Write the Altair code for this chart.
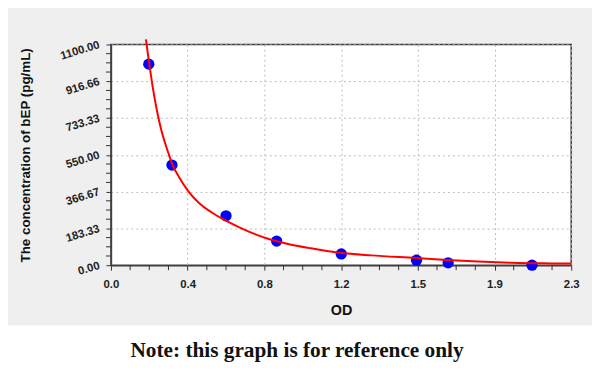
import altair as alt
import pandas as pd

# Standard points (OD, concentration)
od = [0.189, 0.305, 0.575, 0.828, 1.151, 1.527, 1.685, 2.104]
conc = [1002, 499, 246, 120, 56, 25, 12, 0]

# Fitted curve
curve_od = [0.175, 0.185, 0.193, 0.21, 0.23, 0.25, 0.27, 0.29, 0.307, 0.34, 0.386,
            0.44, 0.5, 0.567, 0.65, 0.732, 0.781, 0.88, 1.0, 1.144, 1.3, 1.523,
            1.7, 1.835, 2.003, 2.2, 2.3]
curve_conc = [1125, 1050, 993, 880, 770, 680, 610, 550, 501, 440, 369,
              310, 265, 226, 185, 150, 133, 107, 84, 62, 49, 36,
              25, 18, 12, 9, 8]

x_ticks = [0.0, 0.383333, 0.766667, 1.15, 1.533333, 1.916667, 2.3]
x_tick_labels = ["0.0", "0.4", "0.8", "1.2", "1.5", "1.9", "2.3"]
y_ticks = [0, 183.333, 366.667, 550, 733.333, 916.667, 1100]
y_tick_labels = ["0.00", "183.33", "366.67", "550.00", "733.33", "916.66", "1100.00"]

x_title = "OD"
y_title = "The concentration of bEP (pg/mL)"
note = "Note: this graph is for reference only"

W, H = 465, 223


def label_expr(vals, labels):
    expr = f"'{labels[-1]}'"
    for i in range(len(vals) - 2, -1, -1):
        mid = (vals[i] + vals[i + 1]) / 2
        expr = f"datum.value < {mid} ? '{labels[i]}' : ({expr})"
    return expr


def minors(vals):
    out = []
    for a, b in zip(vals[:-1], vals[1:]):
        for k in (1, 2, 3):
            out.append(a + (b - a) * k / 4)
    return out


xscale = alt.Scale(domain=[0, 2.3], nice=False, zero=False)
yscale = alt.Scale(domain=[0, 1100], nice=False, zero=False)

xaxis = alt.Axis(values=x_ticks, labelExpr=label_expr(x_ticks, x_tick_labels),
                 title=x_title, labelPadding=9, titlePadding=13, labelFlush=False,
                 titleFontSize=14.5)
yaxis = alt.Axis(values=y_ticks, labelExpr=label_expr(y_ticks, y_tick_labels),
                 title=y_title, labelAngle=343, labelAlign="right", labelBaseline="middle",
                 labelPadding=7, titlePadding=26, labelFlush=False, titleFontSize=13.5)

pts = pd.DataFrame({"od": od, "conc": conc})
cdf = pd.DataFrame({"od": curve_od, "conc": curve_conc})
xminor = pd.DataFrame({"od": minors(x_ticks)})
yminor = pd.DataFrame({"conc": minors(y_ticks)})
one = pd.DataFrame({"a": [0]})

white_band = alt.Chart(one).mark_rect(color="white", clip=False).encode(
    x=alt.value(-110), x2=alt.value(W + 30), y=alt.value(284), y2=alt.value(340)
)

note_text = alt.Chart(one).mark_text(
    font="Liberation Serif", fontWeight="bold", fontSize=21.5, color="#111",
    align="center", baseline="middle", clip=False
).encode(x=alt.value(300 - 112), y=alt.value(310), text=alt.value(note))

xminor_rules = alt.Chart(xminor).mark_rule(color="#333", strokeWidth=1, clip=False).encode(
    x=alt.X("od:Q", scale=xscale, axis=xaxis), y=alt.value(H), y2=alt.value(H + 5)
)
yminor_rules = alt.Chart(yminor).mark_rule(color="#333", strokeWidth=1, clip=False).encode(
    y=alt.Y("conc:Q", scale=yscale, axis=yaxis), x=alt.value(-5), x2=alt.value(0)
)

points = alt.Chart(pts).mark_circle(color="#0000ff", size=130, opacity=1).encode(
    x=alt.X("od:Q", scale=xscale, axis=xaxis),
    y=alt.Y("conc:Q", scale=yscale, axis=yaxis),
)

curve = alt.Chart(cdf).mark_line(color="#ff0000", strokeWidth=2, interpolate="monotone", clip=False).encode(
    x=alt.X("od:Q", scale=xscale, axis=xaxis),
    y=alt.Y("conc:Q", scale=yscale, axis=yaxis),
)

chart = alt.layer(white_band, note_text, xminor_rules, yminor_rules, points, curve).properties(
    width=W, height=H,
    autosize=alt.AutoSizeParams(type="none"),
    padding={"left": 104, "top": 35, "right": 21, "bottom": 100},
    background="#efefef",
).configure_view(
    fill="white", stroke="#404040", strokeWidth=1.5
).configure_axis(
    domainColor="#404040", domainWidth=1.5,
    grid=True, gridColor="#bdbdbd", gridDash=[2, 3], gridWidth=1,
    tickColor="#333", tickSize=5, tickWidth=1,
    labelFont="Liberation Sans", labelFontWeight="bold", labelFontSize=11.5, labelColor="#222",
    titleFont="Liberation Sans", titleFontWeight="bold", titleColor="#111",
)

chart.save("out.html", embed_options={"renderer": "svg", "actions": False})
